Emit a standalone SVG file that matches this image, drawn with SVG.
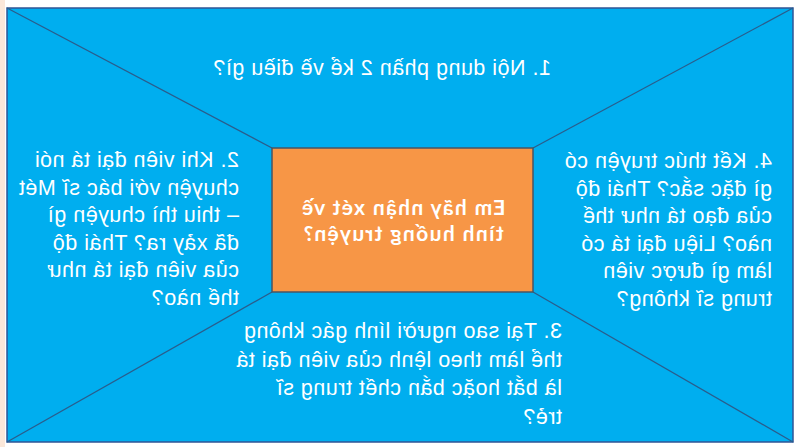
<svg xmlns="http://www.w3.org/2000/svg" width="800" height="447" viewBox="0 0 800 447">
<style>
.q{font-family:"Liberation Sans",Arial,sans-serif;font-size:21.5px;fill:#FFFFFF;letter-spacing:0.5px}
.c{font-family:"Lato","Noto Sans",sans-serif;font-size:21px;font-weight:700;fill:#FFFFFF;text-anchor:middle;letter-spacing:1.4px}
.ln{stroke:#2A5D8C;stroke-width:1.3;fill:none}
</style>
<rect x="0" y="0" width="800" height="447" fill="#FFFFFF"/>
<rect x="0" y="0" width="5" height="447" fill="#FBE8DA"/>
<g transform="matrix(-1 0 0 1 800 0)">
<g id="frame">
<rect x="7" y="8" width="786" height="434" fill="#00AEEF" stroke="#2F5597" stroke-width="1.5"/>
</g>
<g id="connectors">
<line class="ln" x1="7" y1="8" x2="267" y2="148"/>
<line class="ln" x1="793" y1="8" x2="528" y2="148"/>
<line class="ln" x1="7" y1="442" x2="267" y2="292"/>
<line class="ln" x1="793" y1="442" x2="528" y2="292"/>
</g>
<g id="center">
<rect x="267" y="148" width="261" height="144" fill="#F79646" stroke="#4A5563" stroke-width="1.5"/>
<text class="c" x="397" y="215">Em hãy nhận xét về</text>
<text class="c" x="397" y="241">tình huống truyện?</text>
</g>
<g id="q1">
<text class="q" x="249" y="75">1. Nội dung phần 2 kể về điều gì?</text>
</g>
<g id="q2">
<text class="q" x="561" y="167">2. Khi viên đại tá nói</text>
<text class="q" x="561" y="194.6">chuyện với bác sĩ Mét</text>
<text class="q" x="561" y="222.2">– thiu thì chuyện gì</text>
<text class="q" x="561" y="249.8">đã xảy ra? Thái độ</text>
<text class="q" x="561" y="277.4">của viên đại tá như</text>
<text class="q" x="561" y="305">thế nào?</text>
</g>
<g id="q3">
<text class="q" x="238" y="338">3. Tại sao người lính gác không</text>
<text class="q" x="238" y="366.5">thể làm theo lệnh của viên đại tá</text>
<text class="q" x="238" y="395">là bắt hoặc bắn chết trung sĩ</text>
<text class="q" x="238" y="423.5">trẻ?</text>
</g>
<g id="q4">
<text class="q" x="28" y="168">4. Kết thúc truyện có</text>
<text class="q" x="28" y="195.6">gì đặc sắc? Thái độ</text>
<text class="q" x="28" y="223.2">của đạo tá như thế</text>
<text class="q" x="28" y="250.8">nào? Liệu đại tá có</text>
<text class="q" x="28" y="278.4">làm gì được viên</text>
<text class="q" x="28" y="306">trung sĩ không?</text>
</g>
</g>
</svg>
